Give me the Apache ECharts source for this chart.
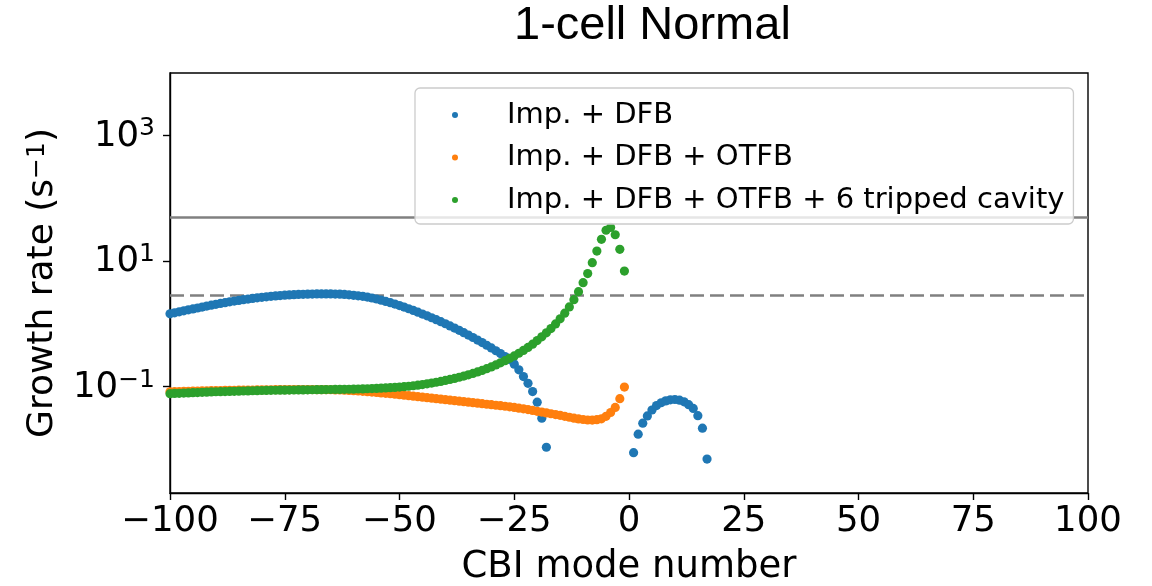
<!DOCTYPE html>
<html>
<head>
<meta charset="utf-8">
<script src="https://cdn.jsdelivr.net/npm/echarts@6/dist/echarts.min.js"></script>
<style>html,body{margin:0;padding:0;background:#fff;}#c{width:1152px;height:586px;}</style>
</head>
<body>
<div id="c"></div>
<script>
// ---- data ----
const seriesNames = ['Imp. + DFB', 'Imp. + DFB + OTFB', 'Imp. + DFB + OTFB + 6 tripped cavity'];
const colors = ['#1f77b4', '#ff7f0e', '#2ca02c'];

const modesNeg = [-100,-99,-98,-97,-96,-95,-94,-93,-92,-91,-90,-89,-88,-87,-86,-85,-84,-83,-82,-81,
  -80,-79,-78,-77,-76,-75,-74,-73,-72,-71,-70,-69,-68,-67,-66,-65,-64,-63,-62,-61,
  -60,-59,-58,-57,-56,-55,-54,-53,-52,-51,-50,-49,-48,-47,-46,-45,-44,-43,-42,-41,
  -40,-39,-38,-37,-36,-35,-34,-33,-32,-31,-30,-29,-28,-27,-26,-25,-24,-23,-22,-21,
  -20,-19,-18,-17,-16,-15,-14,-13,-12,-11,-10,-9,-8,-7,-6,-5,-4,-3,-2,-1];

// Imp. + DFB, modes -100 .. -18
const blueLeft = [1.445,1.500,1.556,1.614,1.671,1.730,1.791,1.854,1.919,1.982,
  2.046,2.113,2.178,2.244,2.307,2.366,2.427,2.483,2.541,2.594,
  2.649,2.698,2.742,2.786,2.825,2.858,2.891,2.917,2.938,2.958,
  2.972,2.985,2.992,2.999,2.999,2.992,2.985,2.965,2.938,2.904,
  2.851,2.799,2.742,2.667,2.582,2.489,2.388,2.280,2.173,2.065,
  1.959,1.849,1.742,1.637,1.535,1.435,1.343,1.253,1.167,1.084,
  1.005,0.929,0.857,0.789,0.724,0.664,0.607,0.553,0.504,0.457,
  0.414,0.374,0.337,0.303,0.272,0.229,0.186,0.145,0.1135,0.0838,
  0.0568,0.0316,0.0109];
// Imp. + DFB, modes 1 .. 17
const modesPos = [1,2,3,4,5,6,7,8,9,10,11,12,13,14,15,16,17];
const blueRight = [0.00895,0.0176,0.0263,0.0343,0.0427,0.0501,0.0556,0.0596,0.0619,0.0627,
  0.0612,0.0575,0.0519,0.0452,0.0347,0.0219,0.00708];

// Imp. + DFB + OTFB, modes -100 .. -1
const orange = [0.0832,0.0836,0.0839,0.0843,0.0847,0.0851,0.0855,0.0859,0.0863,0.0865,
  0.0867,0.0871,0.0873,0.0875,0.0879,0.0881,0.0883,0.0885,0.0887,0.0889,
  0.0891,0.0893,0.0895,0.0897,0.0897,0.0899,0.0899,0.0902,0.0902,0.0902,
  0.0902,0.0902,0.0899,0.0899,0.0897,0.0895,0.0891,0.0887,0.0881,0.0875,
  0.0867,0.0857,0.0847,0.0836,0.0824,0.0811,0.0798,0.0785,0.0773,0.0760,
  0.0748,0.0735,0.0721,0.0708,0.0695,0.0682,0.0670,0.0658,0.0646,0.0634,
  0.0622,0.0611,0.0600,0.0589,0.0578,0.0568,0.0557,0.0547,0.0537,0.0527,
  0.0518,0.0508,0.0499,0.0489,0.0479,0.0468,0.0456,0.0445,0.0433,0.0420,
  0.0407,0.0395,0.0384,0.0372,0.0361,0.0351,0.0339,0.0327,0.0316,0.0308,
  0.0301,0.0296,0.0295,0.0299,0.0309,0.0339,0.0389,0.0468,0.0646,0.0989];

// Imp. + DFB + OTFB + 6 tripped cavity, modes -100 .. -1
const green = [0.0776,0.0782,0.0787,0.0793,0.0798,0.0804,0.0809,0.0815,0.0820,0.0826,
  0.0832,0.0836,0.0839,0.0843,0.0847,0.0851,0.0855,0.0859,0.0863,0.0867,
  0.0871,0.0875,0.0877,0.0879,0.0881,0.0883,0.0885,0.0887,0.0889,0.0891,
  0.0893,0.0895,0.0897,0.0899,0.0902,0.0904,0.0906,0.0908,0.0910,0.0912,
  0.0916,0.0920,0.0925,0.0929,0.0935,0.0942,0.0948,0.0957,0.0966,0.0977,
  0.0989,0.1002,0.1019,0.1038,0.1059,0.1084,0.1112,0.1143,0.1178,0.1216,
  0.1259,0.1306,0.1358,0.1416,0.1479,0.1549,0.1629,0.1718,0.1820,0.1936,
  0.2070,0.2223,0.2399,0.2600,0.2831,0.3097,0.3412,0.3784,0.4227,0.4764,
  0.5420,0.6223,0.7211,0.8433,0.9977,1.202,1.479,1.862,2.427,3.251,
  4.519,6.310,9.397,14.42,22.13,30.90,34.28,26.18,15.35,6.918];

const solidThreshold = [49.6];
const dashedThreshold = [2.88];
const yTickValues = [0.1, 10, 1000];

// ---- build ----
const pairs = (xs, ys) => ys.map((v, i) => [xs[i], v]);
const blueData = pairs(modesNeg, blueLeft).concat(pairs(modesPos, blueRight));
const orangeData = pairs(modesNeg, orange);
const greenData = pairs(modesNeg, green);

const FONT = 'DejaVu Sans';
const chart = echarts.init(document.getElementById('c'), null, {renderer: 'canvas'});

const scatter = (name, data, color, extra) => Object.assign({
  name, type: 'scatter', data, symbol: 'circle', symbolSize: 9.2,
  itemStyle: {color, opacity: 1}, emphasis: {disabled: true}, z: 3
}, extra || {});

chart.setOption({
  animation: false,
  backgroundColor: '#ffffff',
  title: {
    text: '1-cell Normal', left: 514, top: 3, padding: 0,
    textStyle: {fontFamily: 'Liberation Sans', fontSize: 47, fontWeight: 'normal', color: '#000'}
  },
  grid: {left: 170, right: 64, top: 73, bottom: 93, containLabel: false, outerBoundsMode: 'none',
    show: true, borderColor: '#000', borderWidth: 1.4, backgroundColor: 'transparent'},
  legend: {
    data: seriesNames,
    orient: 'vertical', left: 415, top: 88,
    padding: [12, 9, 9, 37],
    icon: 'circle', itemWidth: 6, itemHeight: 6, itemGap: 12.5,
    backgroundColor: 'rgba(255,255,255,0.8)', borderColor: '#cccccc', borderWidth: 1.3, borderRadius: 5,
    formatter: name => '{p|}' + name,
    textStyle: {fontFamily: FONT, fontSize: 29, color: '#000', lineHeight: 30,
      rich: {p: {width: 44, fontSize: 29, lineHeight: 30}}},
    selectedMode: false, z: 10
  },
  xAxis: {
    type: 'value', min: -100, max: 100, interval: 25,
    name: 'CBI mode number', nameLocation: 'middle', nameGap: 56,
    nameTextStyle: {fontFamily: FONT, fontSize: 37, color: '#000'},
    axisLine: {show: true, onZero: false, lineStyle: {color: '#000', width: 1.4}},
    axisTick: {show: true, inside: false, length: 7, lineStyle: {color: '#000', width: 1.4}},
    axisLabel: {fontFamily: FONT, fontSize: 35.5, color: '#000', margin: 11,
      formatter: v => String(v).replace('-', '\u2212')},
    splitLine: {show: false}
  },
  yAxis: {
    type: 'log', logBase: 10, min: 0.00204, max: 9800,
    name: 'Growth rate (s{s|\u22121})', nameLocation: 'middle', nameGap: 109, nameRotate: 90,
    nameTextStyle: {fontFamily: FONT, fontSize: 36, color: '#000',
      rich: {s: {fontFamily: FONT, fontSize: 25, color: '#000', verticalAlign: 'top', lineHeight: 26}}},
    axisLine: {show: true, onZero: false, lineStyle: {color: '#000', width: 1.4}},
    axisTick: {show: true, inside: false, length: 7, lineStyle: {color: '#000', width: 1.4}, customValues: yTickValues},
    minorTick: {show: false},
    axisLabel: {
      margin: 15, customValues: yTickValues,
      formatter: v => '{b|10}{s|' + String(Math.round(Math.log10(v))).replace('-', '\u2212') + '}',
      rich: {
        b: {fontFamily: FONT, fontSize: 35.5, color: '#000', lineHeight: 38, verticalAlign: 'bottom'},
        s: {fontFamily: FONT, fontSize: 25, color: '#000', lineHeight: 25, verticalAlign: 'top'}
      }
    },
    splitLine: {show: false}, minorSplitLine: {show: false}
  },
  series: [
    scatter(seriesNames[0], blueData, colors[0], {
      markLine: {
        silent: true, symbol: ['none', 'none'], label: {show: false},
        data: [
          {yAxis: solidThreshold[0], lineStyle: {color: '#808080', width: 2.5, type: 'solid'}},
          {yAxis: dashedThreshold[0], lineStyle: {color: '#808080', width: 2.5, type: [14, 6]}}
        ],
        z: 1
      }
    }),
    scatter(seriesNames[1], orangeData, colors[1]),
    scatter(seriesNames[2], greenData, colors[2])
  ]
});
</script>
</body>
</html>
